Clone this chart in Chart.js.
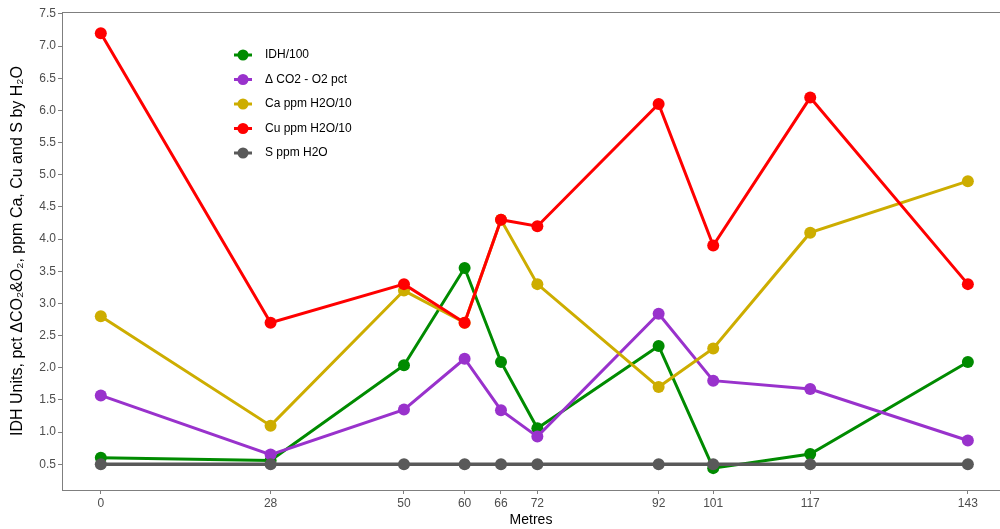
<!DOCTYPE html>
<html>
<head>
<meta charset="utf-8">
<script src="https://cdn.jsdelivr.net/npm/chart.js"></script>
<style>
  html, body { margin: 0; padding: 0; background: #fff; }
  #wrap { width: 1000px; height: 529px; }
</style>
</head>
<body>
<div id="wrap"><canvas id="c" width="1000" height="529"></canvas></div>
<script>
// Distancias (m) y series
const metres = [0, 28, 50, 60, 66, 72, 92, 101, 117, 143];
const idh = [0.60, 0.56, 2.04, 3.55, 2.09, 1.06, 2.34, 0.44, 0.66, 2.09];
const deltaCO2 = [1.57, 0.65, 1.35, 2.14, 1.34, 0.93, 2.84, 1.80, 1.67, 0.87];
const caH2O = [2.8, 1.1, 3.2, 2.7, 4.3, 3.3, 1.7, 2.3, 4.1, 4.9];
const cuH2O = [7.2, 2.7, 3.3, 2.7, 4.3, 4.2, 6.1, 3.9, 6.2, 3.3];
const sH2O = [0.5, 0.5, 0.5, 0.5, 0.5, 0.5, 0.5, 0.5, 0.5, 0.5];
const yTicks = [0.5, 1.0, 1.5, 2.0, 2.5, 3.0, 3.5, 4.0, 4.5, 5.0, 5.5, 6.0, 6.5, 7.0, 7.5];

const series = [
  { label: 'IDH/100', data: idh, color: '#008B00' },
  { label: 'Δ CO2 - O2 pct', data: deltaCO2, color: '#9932CC' },
  { label: 'Ca ppm H2O/10', data: caH2O, color: '#CDAD00' },
  { label: 'Cu ppm H2O/10', data: cuH2O, color: '#FF0000' },
  { label: 'S ppm H2O', data: sH2O, color: '#595959' }
];

const axisGrey = '#4D4D4D';
const font = 'Liberation Sans, Arial, sans-serif';

// Leyenda dentro del panel + marco
const insideLegend = {
  id: 'insideLegend',
  afterDraw(chart) {
    const ctx = chart.ctx;
    const a = chart.chartArea;
    ctx.save();
    ctx.strokeStyle = '#7f7f7f';
    ctx.lineWidth = 1;
    ctx.strokeRect(a.left + 0.5, a.top + 0.5, a.right - a.left, a.bottom - a.top);
    const x0 = 234, y0 = 55, gap = 24.5;
    chart.data.datasets.forEach((ds, i) => {
      const y = y0 + i * gap;
      ctx.strokeStyle = ds.borderColor;
      ctx.lineWidth = 3;
      ctx.beginPath();
      ctx.moveTo(x0, y);
      ctx.lineTo(x0 + 18, y);
      ctx.stroke();
      ctx.fillStyle = ds.borderColor;
      ctx.beginPath();
      ctx.arc(x0 + 9, y, 5.5, 0, Math.PI * 2);
      ctx.fill();
      ctx.fillStyle = '#000';
      ctx.font = '12px ' + font;
      ctx.textBaseline = 'middle';
      ctx.fillText(ds.label, x0 + 31, y);
    });
    ctx.restore();
  }
};

new Chart(document.getElementById('c').getContext('2d'), {
  type: 'line',
  data: {
    datasets: series.map((s, i) => ({
      label: s.label,
      data: metres.map((m, j) => ({ x: m, y: s.data[j] })),
      borderColor: s.color,
      backgroundColor: s.color,
      pointBackgroundColor: s.color,
      pointBorderWidth: 0,
      pointRadius: 6,
      borderWidth: i === 4 ? 3.5 : 3,
      tension: 0,
      order: series.length - i
    }))
  },
  options: {
    responsive: false,
    animation: false,
    layout: { autoPadding: false, padding: { top: 12, right: 0, left: 0, bottom: 0 } },
    plugins: {
      legend: { display: false },
      tooltip: { enabled: false }
    },
    scales: {
      x: {
        type: 'linear',
        min: -6.4,
        max: 148.3,
        afterBuildTicks: s => { s.ticks = metres.map(v => ({ value: v })); },
        afterFit: s => { s.height = 39; },
        grid: { display: true, drawOnChartArea: false, drawTicks: true, tickLength: 4, color: '#7f7f7f' },
        border: { display: true, color: '#7f7f7f' },
        ticks: { color: axisGrey, font: { family: font, size: 12 }, padding: 2, maxRotation: 0, autoSkip: false },
        title: { display: true, text: 'Metres', color: '#000', font: { family: font, size: 14 }, padding: { top: 0, bottom: 0 } }
      },
      y: {
        min: 0.1,
        max: 7.53,
        afterBuildTicks: s => { s.ticks = yTicks.map(v => ({ value: v })); },
        afterFit: s => { s.width = 62; },
        grid: { display: true, drawOnChartArea: false, drawTicks: true, tickLength: 4, color: '#7f7f7f' },
        border: { display: true, color: '#7f7f7f' },
        ticks: { color: axisGrey, font: { family: font, size: 12 }, padding: 2, callback: v => v.toFixed(1) },
        title: { display: true, text: 'IDH Units, pct ΔCO₂&O₂, ppm Ca, Cu and S by H₂O', color: '#000', font: { family: font, size: 16 }, padding: { top: 8, bottom: 0 } }
      }
    }
  },
  plugins: [insideLegend]
});
</script>
</body>
</html>
